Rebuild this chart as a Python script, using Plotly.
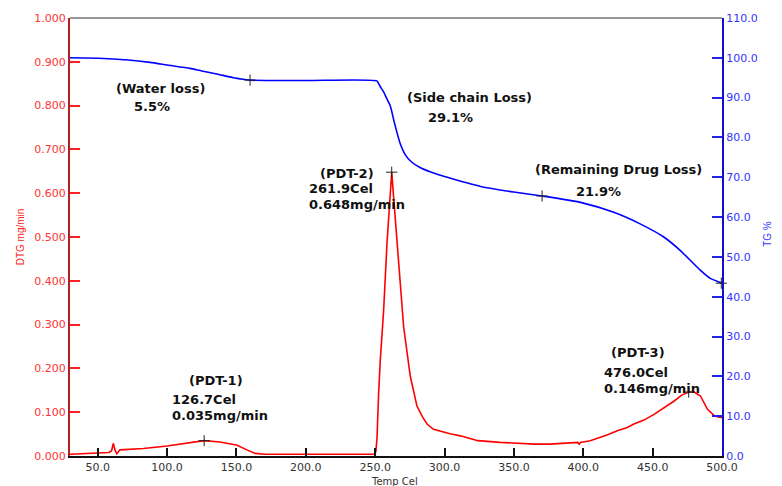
import plotly.graph_objects as go

# ---- data ----
tg_temp = [30, 50, 61.2, 70, 87.7, 100, 116.5, 125, 135.8, 147.8, 159.8, 200, 251.2,
           252.4, 253.6, 256, 258, 260.8, 264, 268, 272, 276, 282, 290, 297, 302,
           315, 326, 349.8, 370.3, 398, 422, 441, 458, 470, 484.5, 491.6, 500]
tg_pct = [100.0, 99.9, 99.7, 99.5, 98.85, 98.2, 97.35, 96.7, 95.95, 95.0, 94.4, 94.3, 94.2,
          93.6, 92.8, 91.5, 90.0, 88.0, 83.5, 78.5, 75.5, 73.9, 72.5, 71.3, 70.5, 70.0,
          68.7, 67.7, 66.3, 65.3, 63.7, 61.2, 58.3, 55.0, 51.6, 46.6, 44.6, 43.4]

dtg_temp = [30, 45, 58, 60, 61.2, 62.3, 63.7, 66, 83, 100, 119, 126.7, 138, 150, 157.5,
            163.5, 170, 200, 249.5, 250.5, 251.3, 252.5, 253.7, 256.1, 258.5, 261.9,
            265.7, 270.5, 275.3, 280.1, 284, 287.4, 292, 299.3, 304, 311.4, 324, 340,
            352, 365, 376, 390, 396, 397, 398, 405, 412.4, 417, 425, 431.7, 436.5,
            443.7, 451, 458, 465.3, 471, 476, 480, 484.5, 489.4, 494.2, 497, 500]
dtg_val = [0.004, 0.006, 0.008, 0.012, 0.029, 0.015, 0.005, 0.014, 0.017, 0.023, 0.032,
           0.035, 0.032, 0.025, 0.014, 0.006, 0.004, 0.004, 0.004, 0.010, 0.040, 0.145,
           0.220, 0.333, 0.485, 0.648, 0.485, 0.295, 0.182, 0.114, 0.090, 0.073, 0.061,
           0.054, 0.051, 0.046, 0.035, 0.031, 0.029, 0.027, 0.027, 0.029, 0.031, 0.027,
           0.031, 0.035, 0.042, 0.048, 0.058, 0.065, 0.073, 0.082, 0.095, 0.109, 0.125,
           0.139, 0.146, 0.146, 0.137, 0.107, 0.093, 0.089, 0.088]

dtg_peak_temp = [126.7, 261.9, 476.0]
dtg_peak_val = [0.035, 0.648, 0.146]
tg_mark_temp = [159.8, 370.3, 499.5]
tg_mark_val = [94.4, 65.3, 43.4]

x_ticks = [50, 100, 150, 200, 250, 300, 350, 400, 450, 500]
x_ticktext = ["50.0", "100.0", "150.0", "200.0", "250.0", "300.0", "350.0", "400.0", "450.0", "500.0"]
y1_ticks = [0.0, 0.1, 0.2, 0.3, 0.4, 0.5, 0.6, 0.7, 0.8, 0.9, 1.0]
y1_ticktext = ["0.000", "0.100", "0.200", "0.300", "0.400", "0.500", "0.600", "0.700", "0.800", "0.900", "1.000"]
y2_ticks = [0, 10, 20, 30, 40, 50, 60, 70, 80, 90, 100, 110]
y2_ticktext = ["0.0", "10.0", "20.0", "30.0", "40.0", "50.0", "60.0", "70.0", "80.0", "90.0", "100.0", "110.0"]

# annotations: (text, x temp, y dtg, xanchor)
labels = [
    ("(Water loss)", 94.9, 0.839, "center"),
    ("5.5%", 89.1, 0.797, "center"),
    ("(Side chain Loss)", 317.8, 0.819, "center"),
    ("29.1%", 304.1, 0.772, "center"),
    ("(Remaining Drug Loss)", 425.2, 0.653, "center"),
    ("21.9%", 410.8, 0.605, "center"),
    ("(PDT-2)", 229.8, 0.645, "center"),
    ("261.9Cel", 201.7, 0.610, "left"),
    ("0.648mg/min", 201.7, 0.575, "left"),
    ("(PDT-1)", 135.3, 0.173, "center"),
    ("126.7Cel", 102.8, 0.128, "left"),
    ("0.035mg/min", 102.8, 0.092, "left"),
    ("(PDT-3)", 439.3, 0.236, "center"),
    ("476.0Cel", 414.4, 0.190, "left"),
    ("0.146mg/min", 414.4, 0.153, "left"),
]

fig = go.Figure()
fig.add_trace(go.Scatter(x=dtg_temp, y=dtg_val, mode="lines",
                         line=dict(color="#ff0000", width=1.6), yaxis="y", showlegend=False))
fig.add_trace(go.Scatter(x=tg_temp, y=tg_pct, mode="lines", line_shape="spline",
                         line=dict(color="#0000ff", width=1.6, smoothing=0.6), yaxis="y2", showlegend=False))
fig.add_trace(go.Scatter(x=dtg_peak_temp, y=dtg_peak_val, mode="markers", yaxis="y",
                         marker=dict(symbol="cross-thin", size=8, line=dict(color="#222222", width=1)),
                         showlegend=False))
fig.add_trace(go.Scatter(x=tg_mark_temp, y=tg_mark_val, mode="markers", yaxis="y2",
                         marker=dict(symbol="cross-thin", size=8, line=dict(color="#222222", width=1)),
                         showlegend=False, cliponaxis=False))

for text, xv, yv, anc in labels:
    fig.add_annotation(x=xv, y=yv, xref="x", yref="y", text=text, showarrow=False,
                       xanchor=anc, yanchor="middle", borderpad=0,
                       font=dict(family="DejaVu Sans", size=13, color="#111111", weight="bold"))

fig.add_annotation(x=-0.087, y=0.501, xref="paper", yref="paper", text="DTG mg/min",
                   showarrow=False, textangle=-90,
                   font=dict(family="Liberation Sans", size=10, color="#ff2020"))
fig.add_annotation(x=1.081, y=0.508, xref="paper", yref="paper", text="TG %",
                   showarrow=False, textangle=-90,
                   font=dict(family="Liberation Sans", size=10, color="#3333ff"))
fig.add_annotation(x=0.498, y=-0.058, xref="paper", yref="paper", text="Temp Cel",
                   showarrow=False, yanchor="middle",
                   font=dict(family="DejaVu Sans", size=10, color="#333333"))

# top border
fig.add_shape(type="line", xref="paper", yref="paper", x0=0, x1=1, y0=1, y1=1,
              line=dict(color="#333333", width=1))

fig.update_layout(
    width=782, height=486,
    margin=dict(l=70, r=60, t=16, b=29),
    paper_bgcolor="white", plot_bgcolor="white",
    xaxis=dict(range=[30, 500], tickvals=x_ticks, ticktext=x_ticktext,
               ticks="inside", ticklen=8, tickwidth=1.5, tickcolor="#111111",
               showline=True, linecolor="#111111", linewidth=2, showgrid=False, zeroline=False,
               tickfont=dict(family="DejaVu Sans", size=11, color="#333333")),
    yaxis=dict(range=[0, 1.0], tickvals=y1_ticks, ticktext=y1_ticktext,
               ticks="inside", ticklen=10, tickwidth=1.5, tickcolor="#ff2020",
               showline=True, linecolor="#b02020", linewidth=2, showgrid=False, zeroline=False,
               tickfont=dict(family="DejaVu Sans", size=11, color="#ff3333")),
    yaxis2=dict(range=[0, 110], tickvals=y2_ticks, ticktext=y2_ticktext, overlaying="y", side="right",
                ticks="inside", ticklen=10, tickwidth=1.5, tickcolor="#2222ee",
                showline=True, linecolor="#1010cc", linewidth=2, showgrid=False, zeroline=False,
                tickfont=dict(family="DejaVu Sans", size=11, color="#3333ff")),
)

fig.write_html("out.html", config={"displayModeBar": False},
               post_script="document.body.style.margin='0';document.body.style.padding='0';")
